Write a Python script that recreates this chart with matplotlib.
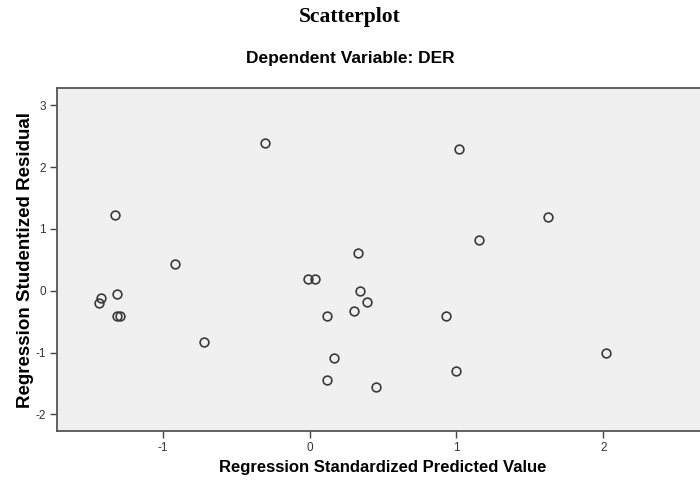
import numpy as np
import matplotlib.pyplot as plt

# predicted (standardized) vs studentized residual
pred = [-0.30, 1.02, -1.32, 1.62, 1.15, -0.915, 0.33, -0.01, 0.035, 0.345,
        0.39, 0.30, 0.12, 0.93, -1.31, -1.42, -1.43, -1.31, -1.29, -0.72,
        0.17, 0.12, 1.00, 0.45, 2.02]
resid = [2.39, 2.29, 1.22, 1.19, 0.82, 0.43, 0.61, 0.19, 0.19, -0.01,
         -0.18, -0.32, -0.41, -0.41, -0.06, -0.12, -0.19, -0.41, -0.41, -0.83,
         -1.09, -1.45, -1.30, -1.55, -1.01]
xticks = [-1, 0, 1, 2]
yticks = [-2, -1, 0, 1, 2, 3]

plt.rcParams['font.family'] = ['Liberation Sans', 'DejaVu Sans']

fig = plt.figure(figsize=(7, 4.87), dpi=100)
ax = fig.add_axes([0.0814, 0.115, 0.93, 0.704])
ax.set_facecolor('#f0f0f0')

ax.plot(pred, resid, 'o', mfc='none', mec='#3a3a3a', mew=1.2, ms=6.3)

ax.set_xlim(-1.718, 2.711)
ax.set_ylim(-2.27, 3.28)
ax.set_xticks(xticks)
ax.set_yticks(yticks)
ax.set_xticklabels([str(t) for t in xticks])
ax.set_yticklabels([str(t) for t in yticks])
ax.tick_params(direction='out', length=5, width=1, color='#444444',
               labelsize=8.5, labelcolor='#333333', pad=3)

for s in ['left', 'bottom', 'top']:
    ax.spines[s].set_color('#555555')
    ax.spines[s].set_linewidth(1.3)
ax.spines['right'].set_visible(False)

ax.set_xlabel('Regression Standardized Predicted Value', fontsize=12,
              fontweight='bold', labelpad=4)
ax.set_ylabel('Regression Studentized Residual', fontsize=13.5,
              fontweight='bold', labelpad=1)

fig.text(0.5, 0.966, 'Scatterplot', ha='center', va='center', fontsize=15.5,
         fontweight='bold', family=['Liberation Serif', 'DejaVu Serif'])
fig.text(0.5, 0.879, 'Dependent Variable: DER', ha='center', va='center',
         fontsize=12.5, fontweight='bold')

plt.savefig('out.png', dpi=100)
